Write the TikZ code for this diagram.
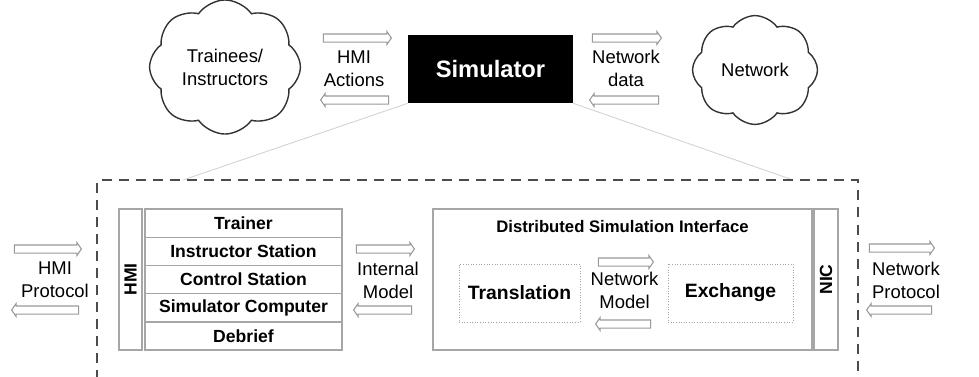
\documentclass[tikz,border=0pt]{standalone}
\usepackage{fontspec}
\setmainfont{Liberation Sans}
\usetikzlibrary{shapes.symbols,shapes.arrows}
\tikzset{
  cloudnode/.style={cloud, cloud puffs=8, cloud puff arc=110, aspect=1.2, draw=black!80, line width=0.8pt,
    minimum width=2.5cm, minimum height=2.1cm, align=center, font=\fontsize{10.5}{13}\selectfont},
  fatarrow/.style={single arrow, draw=gray!80, fill=white, line width=0.6pt, inner xsep=0pt, inner ysep=0.07cm,
    minimum width=0pt, single arrow head extend=0.05cm, single arrow tip angle=110},
  backarrow/.style={fatarrow, shape border rotate=180},
  flowlabel/.style={align=center, inner sep=0pt, font=\fontsize{10.5}{13}\selectfont},
  layer/.style={draw=gray!70, line width=0.8pt, inner sep=0pt, minimum width=3.94cm, minimum height=0.564cm,
    font=\bfseries\fontsize{10}{12}\selectfont},
  sidebar/.style={draw=gray!70, line width=0.8pt, inner sep=0pt, minimum width=0.46cm, minimum height=2.82cm,
    font=\bfseries\fontsize{10}{12}\selectfont},
  subpart/.style={draw=gray!70, densely dotted, line width=0.5pt, inner sep=0pt, minimum height=1.16cm,
    font=\bfseries\fontsize{11}{13}\selectfont}
}
\begin{document}
\begin{tikzpicture}[x=0.02cm,y=-0.02cm]
\useasboundingbox (0,0) rectangle (979,376);
% top row
\node[cloudnode] (trainees) at (225,67) {Trainees/\\Instructors};
\node[cloudnode] (network) at (755,70) {Network};
\node[fill=black, text=white, minimum width=3.3cm, minimum height=1.36cm, inner sep=0pt,
  font=\bfseries\fontsize{13.5}{16}\selectfont] (sim) at (490.5,69) {Simulator};
\node[fatarrow, minimum height=1.36cm] (hmiaR) at (356,38) {};
\node[backarrow, minimum height=1.36cm] (hmiaL) at (356,100) {};
\node[flowlabel] (hmia) at (354,69) {HMI\\Actions};
\node[fatarrow, minimum height=1.38cm] (netdR) at (625.5,38) {};
\node[backarrow, minimum height=1.38cm] (netdL) at (625.5,100) {};
\node[flowlabel] (netd) at (626,68) {Network\\data};
% zoom frame
\coordinate (zoomL) at (183,180);
\coordinate (zoomR) at (793,180);
\draw[gray!35, line width=0.5pt] (sim.south west) -- (zoomL);
\draw[gray!35, line width=0.5pt] (sim.south east) -- (zoomR);
\draw[black!70, line width=1.1pt, dash pattern=on 5.7pt off 4pt] (97,380) -- (97,180) -- (858,180) -- (858,380);
% simulator internals
\node[sidebar] (hmi) at (130.5,279.5) {\rotatebox{90}{HMI}};
\node[layer] (trainer) at (243.5,223.1) {Trainer};
\node[layer] (instr) at (243.5,251.3) {Instructor Station};
\node[layer] (control) at (243.5,279.5) {Control Station};
\node[layer] (computer) at (243.5,307.7) {Simulator Computer};
\node[layer] (debrief) at (243.5,335.9) {Debrief};
\node[draw=gray!70, line width=0.8pt, minimum width=7.58cm, minimum height=2.82cm, inner sep=0pt] (dsi) at (622.5,279.5) {};
\node[font=\bfseries\fontsize{9.5}{12}\selectfont, inner sep=0pt] (dsititle) at (622.5,227) {Distributed Simulation Interface};
\node[subpart, minimum width=2.42cm] (transl) at (519.5,293) {Translation};
\node[subpart, minimum width=2.5cm] (exch) at (730.5,293) {Exchange};
\node[sidebar, minimum width=0.48cm] (nic) at (826,279.5) {\rotatebox{90}{NIC}};
\node[fatarrow, minimum height=1.1cm] (netmR) at (624.5,262) {};
\node[backarrow, minimum height=1.1cm] (netmL) at (624.5,324) {};
\node[flowlabel] (netm) at (624.5,290) {Network\\Model};
% side flows
\node[fatarrow, minimum height=1.34cm] (hmipR) at (46.5,249) {};
\node[backarrow, minimum height=1.34cm] (hmipL) at (46.5,310) {};
\node[flowlabel] (hmip) at (55,280) {HMI\\Protocol};
\node[fatarrow, minimum height=1.16cm] (intmR) at (384,249) {};
\node[backarrow, minimum height=1.16cm] (intmL) at (384,310) {};
\node[flowlabel] (intm) at (388,280) {Internal\\Model};
\node[fatarrow, minimum height=1.3cm] (netpR) at (900.5,248) {};
\node[backarrow, minimum height=1.3cm] (netpL) at (900.5,310) {};
\node[flowlabel] (netp) at (906,280) {Network\\Protocol};
\end{tikzpicture}
\end{document}
